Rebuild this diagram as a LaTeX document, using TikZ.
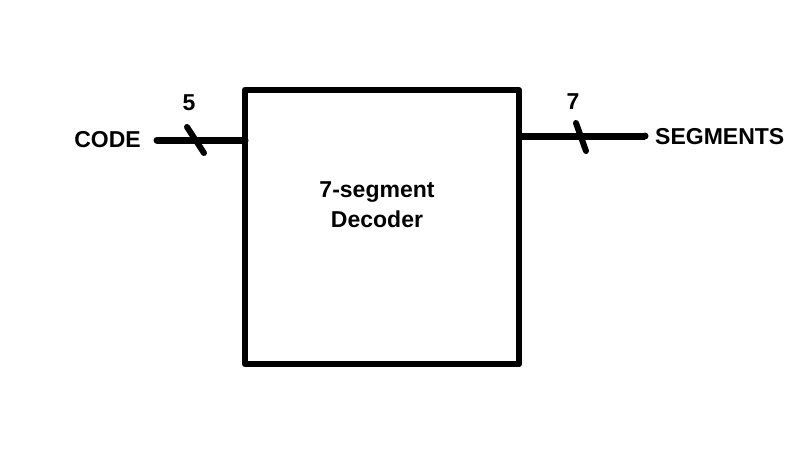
\documentclass[tikz,border=0pt]{standalone}
\usepackage{fontspec}
\setmainfont{Liberation Sans}
\begin{document}
\begin{tikzpicture}[x=1pt,y=-1pt,
  wire/.style={line width=7pt},
  lbl/.style={font=\fontsize{23}{30}\selectfont\bfseries, inner sep=0pt},
  blk/.style={draw, line width=6.5pt, line join=round, minimum width=274pt, minimum height=274pt, inner sep=0pt, outer sep=0pt, anchor=north west}]
\useasboundingbox (0,0) rectangle (803,464);
\node[blk] (dec) at (245,90) {};
\node[lbl, align=center] (title) at (377,205) {7-segment\\Decoder};
\node[lbl, anchor=east] (code) at (141,140) {CODE};
\node[lbl, anchor=west] (seg) at (655,137) {SEGMENTS};
\coordinate (inL) at (157,140);
\coordinate (inR) at (245,140);
\coordinate (outL) at (519,136);
\coordinate (outR) at (645,136);
\draw[wire, line cap=round] (inL) -- (inR);
\draw[wire] (outL) -- (outR);
\fill (outR) circle (3.5pt);
\coordinate (s1a) at (187,127);
\coordinate (s1b) at (204,153);
\coordinate (s2a) at (576,123);
\coordinate (s2b) at (586,151);
\draw[wire, line width=6pt, line cap=round] (s1a) -- (s1b);
\draw[wire, line width=6pt, line cap=round] (s2a) -- (s2b);
\node[lbl] (n5) at (189,103) {5};
\node[lbl] (n7) at (573,102) {7};
\end{tikzpicture}
\end{document}
